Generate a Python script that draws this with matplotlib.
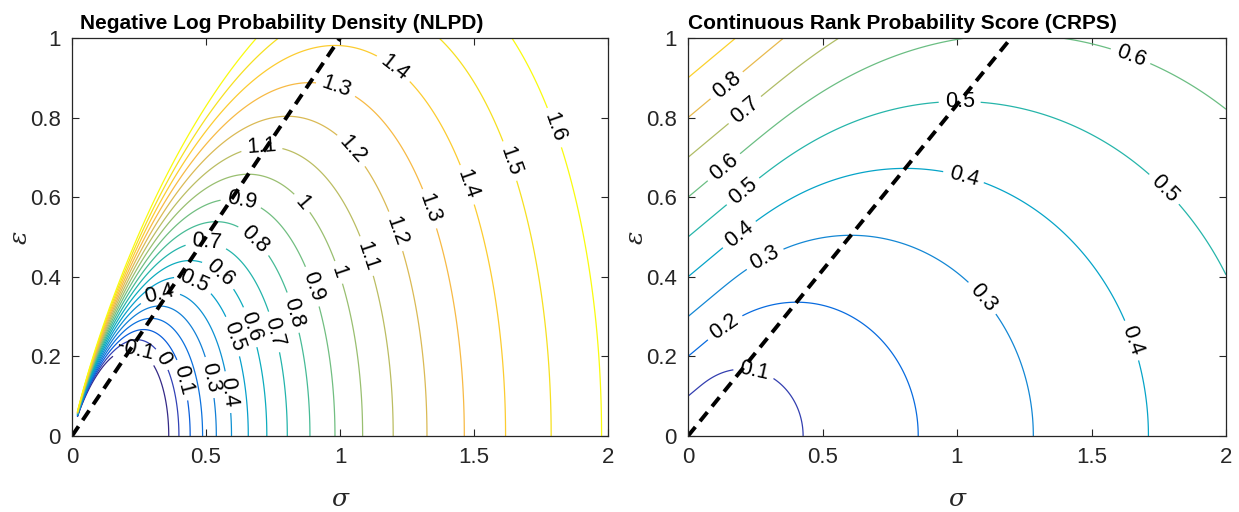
import math
import numpy as np
import matplotlib
matplotlib.use('Agg')
import matplotlib.pyplot as plt
from matplotlib.colors import LinearSegmentedColormap, Normalize

# grid of predictive std (sigma) and absolute error (epsilon)
sigma_nlpd = np.linspace(0.02, 2, 500)
sigma_crps = np.linspace(0.001, 2, 500)
eps_grid = np.linspace(0, 1, 500)

nlpd_levels = [-0.1, 0.0, 0.1, 0.2, 0.3, 0.4, 0.5, 0.6, 0.7, 0.8,
               0.9, 1.0, 1.1, 1.2, 1.3, 1.4, 1.5, 1.6]
crps_levels = [0.1, 0.2, 0.3, 0.4, 0.5, 0.6, 0.7, 0.8, 0.9]

# optimal sigma for a given error (dashed lines)
opt_eps = [0.0, 1.0]
nlpd_opt_sigma = [0.0, 1.0]
crps_opt_sigma = [0.0, 1.201]

x_ticks = [0, 0.5, 1, 1.5, 2]
x_ticklabels = ['0', '0.5', '1', '1.5', '2']
y_ticks = [0, 0.2, 0.4, 0.6, 0.8, 1]
y_ticklabels = ['0', '0.2', '0.4', '0.6', '0.8', '1']

# where the inline labels sit
nlpd_label_pos = [(1.19, 0.915), (0.98, 0.864), (1.03, 0.71), (0.71, 0.706),
                  (0.85, 0.58), (0.63, 0.585), (0.67, 0.485), (0.50, 0.48),
                  (0.54, 0.40), (0.45, 0.38), (0.33, 0.347), (0.235, 0.21),
                  (0.33, 0.19), (0.41, 0.14), (0.507, 0.146), (0.58, 0.11),
                  (0.60, 0.25), (0.65, 0.27), (0.746, 0.26), (0.825, 0.31),
                  (0.895, 0.375), (0.99, 0.41), (1.09, 0.45), (1.19, 0.51),
                  (1.33, 0.57), (1.47, 0.63), (1.63, 0.69), (1.78, 0.77)]
crps_label_pos = [(0.145, 0.88), (0.21, 0.82), (0.14, 0.67), (0.21, 0.61),
                  (0.21, 0.49), (0.29, 0.44), (0.14, 0.27), (0.24, 0.146),
                  (1.01, 0.82), (1.64, 0.945), (1.02, 0.64), (1.77, 0.62),
                  (1.10, 0.35), (1.65, 0.24)]

parula_anchors = [
    (0.2081, 0.1663, 0.5292), (0.1959, 0.2645, 0.7279), (0.0117, 0.3875, 0.8820),
    (0.0498, 0.4586, 0.8641), (0.0793, 0.5200, 0.8312), (0.0343, 0.5966, 0.8199),
    (0.0228, 0.6535, 0.7768), (0.0843, 0.6928, 0.7062), (0.2178, 0.7250, 0.6193),
    (0.3953, 0.7459, 0.5244), (0.5709, 0.7485, 0.4494), (0.7184, 0.7411, 0.3905),
    (0.8507, 0.7299, 0.3360), (0.9739, 0.7314, 0.2666), (0.9880, 0.8066, 0.1794),
    (0.9588, 0.8949, 0.1132), (0.9763, 0.9831, 0.0538)]
pos = [i * 4 / 63 for i in range(16)] + [1.0]
parula = LinearSegmentedColormap.from_list('parula', list(zip(pos, parula_anchors)))

# NLPD and CRPS of a Gaussian prediction
S, E = np.meshgrid(sigma_nlpd, eps_grid)
nlpd = 0.5 * np.log(2 * np.pi * S ** 2) + E ** 2 / (2 * S ** 2)

S2, E2 = np.meshgrid(sigma_crps, eps_grid)
z = E2 / S2
erf = np.vectorize(math.erf)
Phi = 0.5 * (1 + erf(z / np.sqrt(2)))
phi = np.exp(-z ** 2 / 2) / np.sqrt(2 * np.pi)
crps = S2 * (z * (2 * Phi - 1) + 2 * phi - 1 / np.sqrt(np.pi))

plt.rcParams['font.family'] = ['Liberation Sans', 'DejaVu Sans']
fig = plt.figure(figsize=(12.39, 5.12), dpi=100)
ax1 = fig.add_axes([72 / 1239, 76 / 512, 536 / 1239, 398 / 512])
ax2 = fig.add_axes([688 / 1239, 76 / 512, 538 / 1239, 398 / 512])

fmt = lambda v: f'{round(v, 1):g}'

panels = [
    (ax1, S, E, nlpd, nlpd_levels, Normalize(-0.1, 1.6), nlpd_opt_sigma,
     nlpd_label_pos, 'Negative Log Probability Density (NLPD)', 80),
    (ax2, S2, E2, crps, crps_levels, Normalize(0.05, 1.0), crps_opt_sigma,
     crps_label_pos, 'Continuous Rank Probability Score (CRPS)', 688),
]

for ax, X, Y, Z, levels, norm, opt_sigma, label_pos, title, tx in panels:
    ax.set_xlim(0, 2)
    ax.set_ylim(0, 1)
    cs = ax.contour(X, Y, Z, levels=levels, cmap=parula, norm=norm, linewidths=0.9)
    ax.clabel(cs, inline=True, fontsize=15.5, fmt=fmt, manual=label_pos,
              inline_spacing=6, colors='black')
    ax.plot(opt_sigma, opt_eps, color='black', linestyle=(0, (3, 1.9)), linewidth=2.8)
    ax.set_xticks(x_ticks)
    ax.set_xticklabels(x_ticklabels)
    ax.set_yticks(y_ticks)
    ax.set_yticklabels(y_ticklabels)
    ax.tick_params(direction='in', length=5, width=0.8, top=True, right=True,
                   labelsize=16, colors='#262626', pad=8)
    for sp in ax.spines.values():
        sp.set_color('#262626')
        sp.set_linewidth(0.9)
    ax.set_xlabel('σ', fontsize=18, family='DejaVu Serif', style='italic',
                  color='#262626', labelpad=14)
    ax.set_ylabel('ε', fontsize=18, family='DejaVu Serif', style='italic',
                  color='#262626', labelpad=-1)
    fig.text(tx / 1239, (512 - 29) / 512, title, fontsize=15, fontweight='bold',
             ha='left', va='baseline')

fig.savefig('out.png', dpi=100)
